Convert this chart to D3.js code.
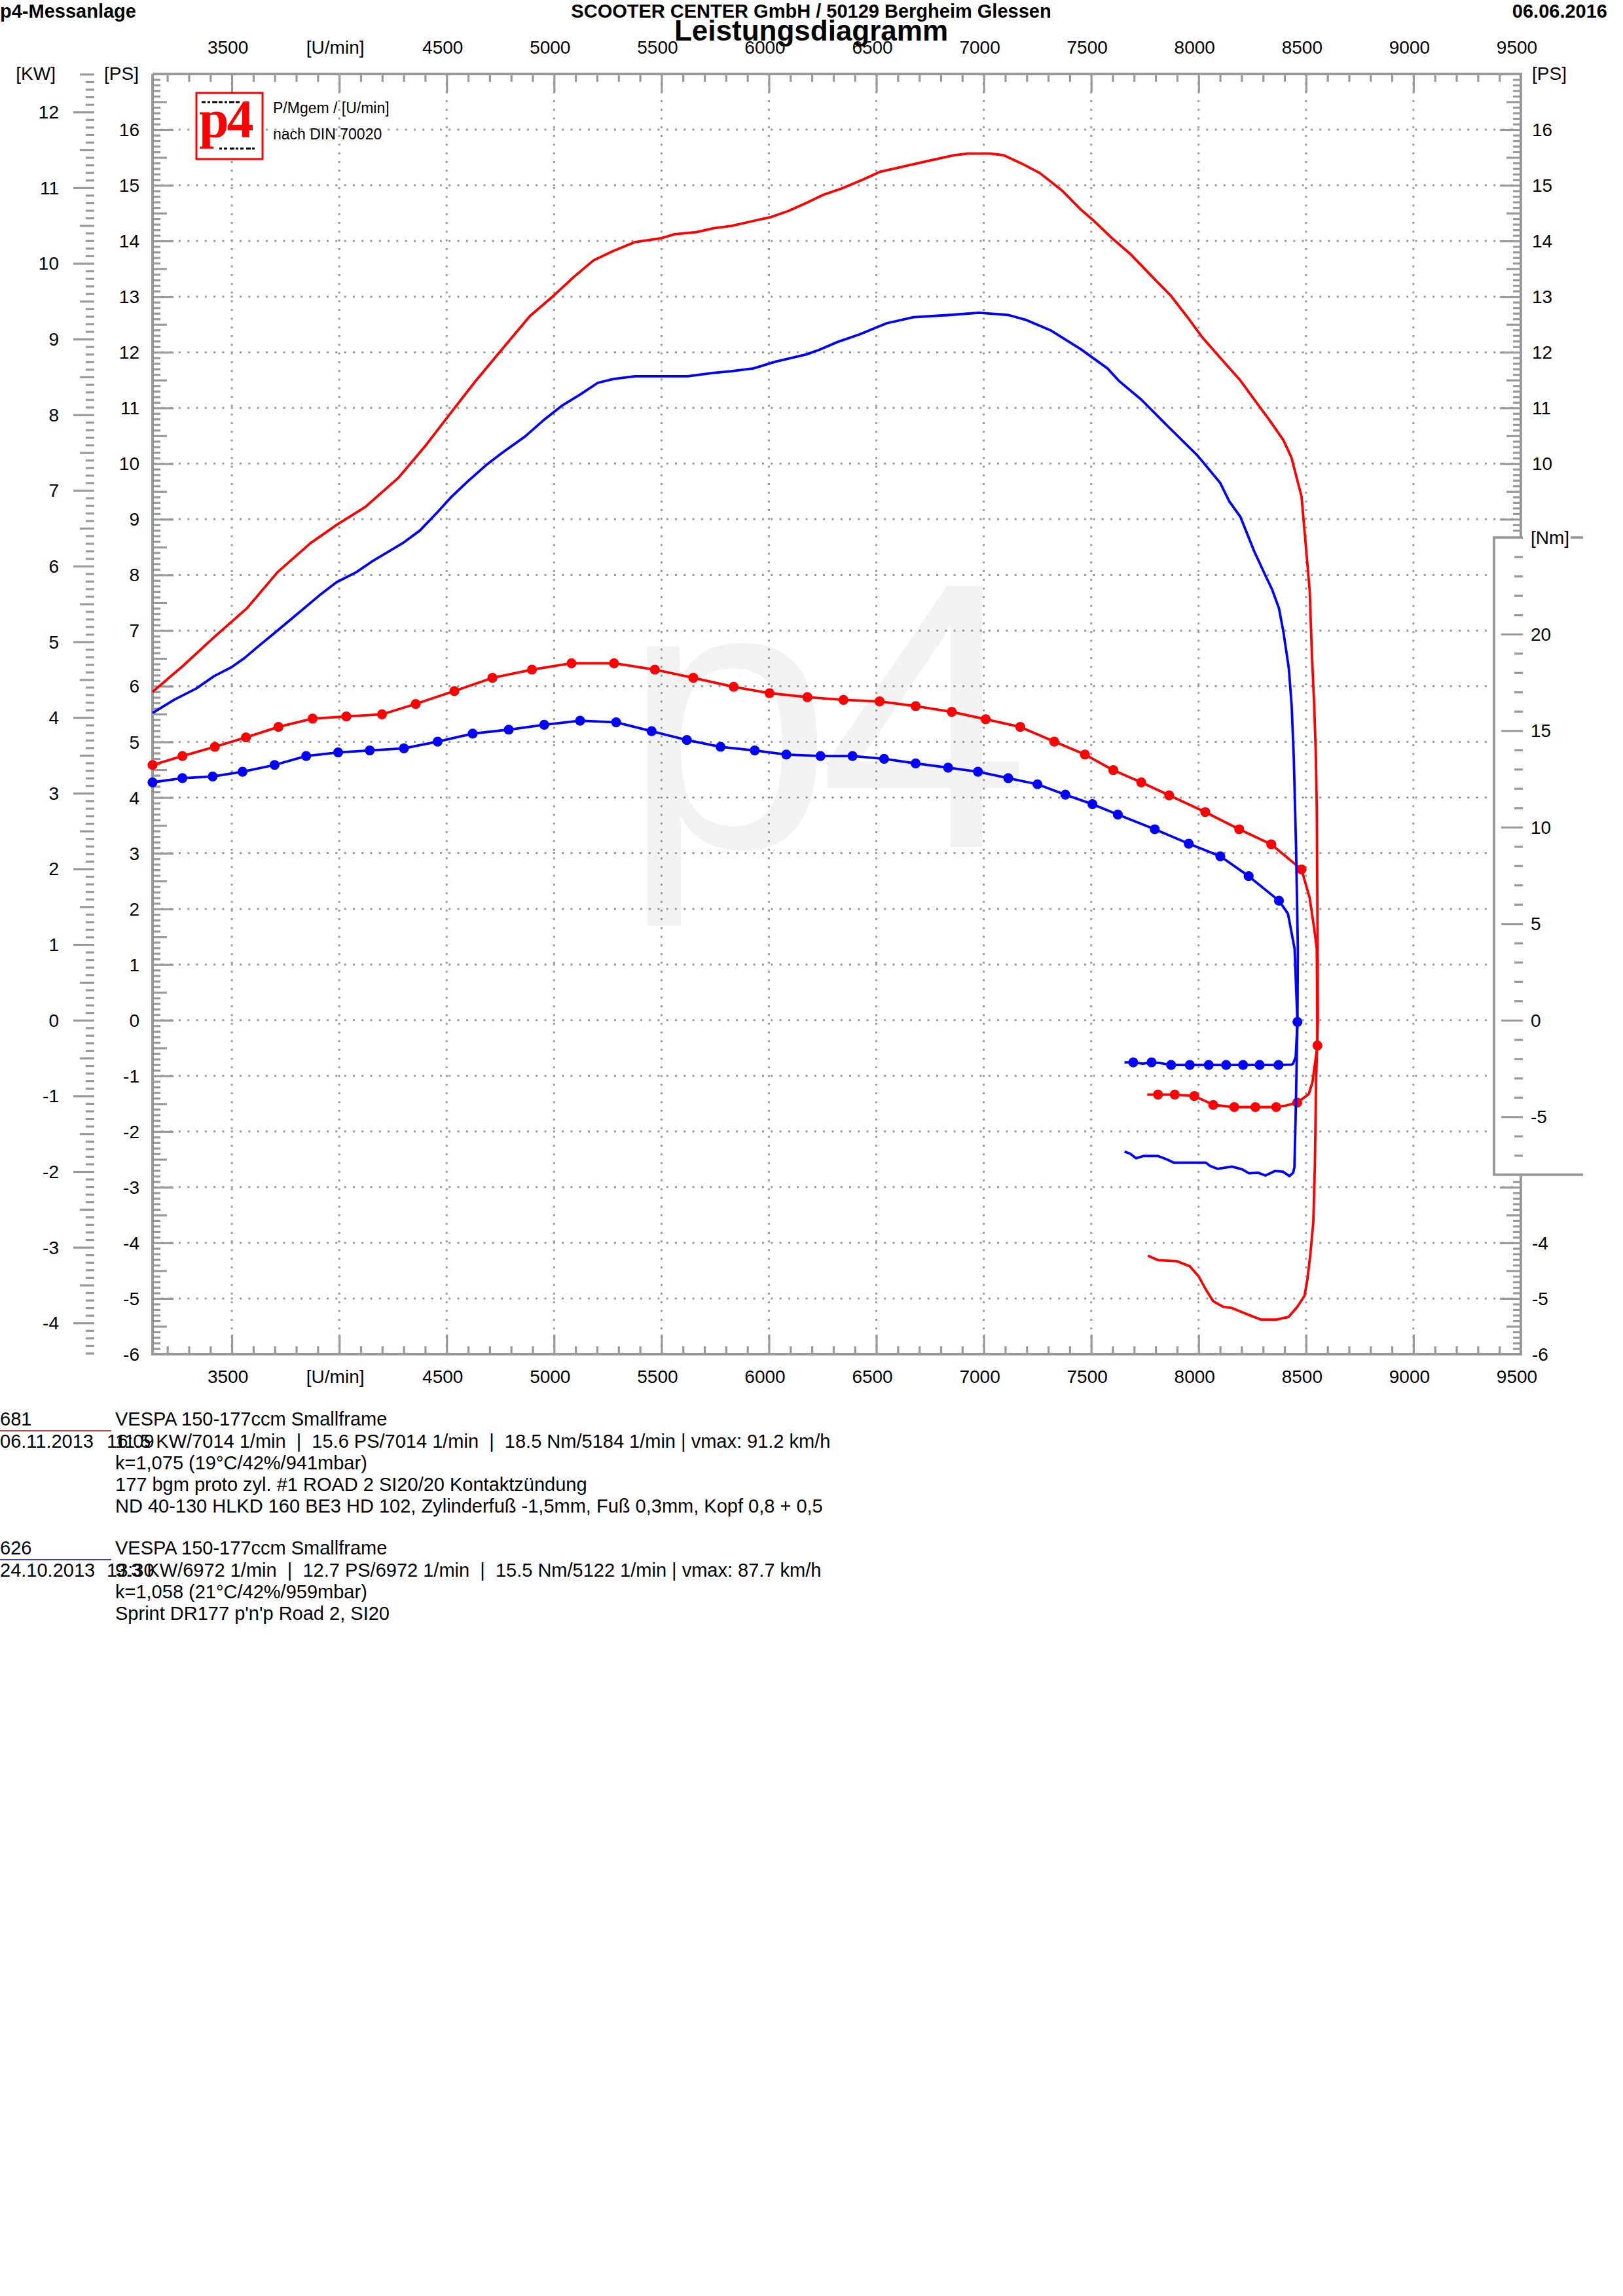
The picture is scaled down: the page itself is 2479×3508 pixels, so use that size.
<!DOCTYPE html>
<html><head><meta charset="utf-8">
<script src="https://cdn.jsdelivr.net/npm/d3@7"></script>
<style>
html,body{margin:0;padding:0;background:#fff;}
svg{display:block;}
text{font-family:"Liberation Sans",Arial,Helvetica,sans-serif;white-space:pre;}
text.serif{font-family:"Liberation Serif","Times New Roman",serif;}
</style></head><body>
<svg id="c" width="2479" height="3508"></svg>
<script>
// ---------------- DATA ----------------
const xTickLabels = ["3500","[U/min]","4500","5000","5500","6000","6500","7000","7500","8000","8500","9000","9500"];
const xTickRpm    = [3500,4000,4500,5000,5500,6000,6500,7000,7500,8000,8500,9000,9500];
const psLeftLabels  = [16,15,14,13,12,11,10,9,8,7,6,5,4,3,2,1,0,-1,-2,-3,-4,-5,-6];
const psRightLabels = [16,15,14,13,12,11,10,-4,-5,-6];
const kwLabels = [12,11,10,9,8,7,6,5,4,3,2,1,0,-1,-2,-3,-4];
const nmLabels = [20,15,10,5,0,-5];

// run 681 (red): power [rpm, PS]
const redPower = [[3131,5.90],[3274,6.37],[3417,6.88],[3570,7.40],[3713,8.05],[3866,8.57],[3988,8.90],[4121,9.22],[4274,9.74],[4397,10.30],[4519,10.91],[4632,11.47],[4744,11.99],[4887,12.65],[4999,13.02],[5091,13.35],[5183,13.65],[5275,13.82],[5377,13.98],[5499,14.05],[5560,14.12],[5662,14.16],[5744,14.23],[5826,14.27],[5928,14.36],[6010,14.43],[6091,14.54],[6173,14.68],[6254,14.83],[6337,14.94],[6442,15.11],[6515,15.24],[6652,15.36],[6778,15.47],[6862,15.54],[6925,15.57],[7030,15.57],[7093,15.54],[7177,15.39],[7261,15.22],[7366,14.90],[7450,14.57],[7513,14.36],[7597,14.05],[7681,13.77],[7786,13.35],[7870,13.02],[7954,12.60],[8017,12.27],[8101,11.90],[8195,11.49],[8269,11.10],[8332,10.77],[8395,10.42],[8432,10.11],[8479,9.41],[8496,8.66],[8517,7.72],[8527,6.60],[8538,5.66],[8546,4.72],[8550,3.79],[8554,1.28],[8555,0],[8547,-1.07],[8541,-2.64],[8534,-3.62],[8520,-4.21],[8507,-4.64],[8493,-4.95],[8459,-5.15],[8419,-5.33],[8358,-5.38],[8291,-5.38],[8230,-5.29],[8155,-5.17],[8115,-5.15],[8068,-5.05],[8034,-4.84],[8000,-4.60],[7959,-4.42],[7899,-4.33],[7811,-4.31],[7764,-4.23]];
// run 681 (red): torque [rpm, Nm, marker]
const redTorque = [[3131,13.22,1],[3270,13.68,1],[3421,14.16,1],[3566,14.65,1],[3717,15.19,1],[3876,15.62,1],[4033,15.73,1],[4199,15.84,1],[4356,16.38,1],[4536,17.05,1],[4713,17.73,1],[4897,18.16,1],[5081,18.49,1],[5279,18.49,1],[5469,18.16,1],[5648,17.73,1],[5836,17.27,1],[6003,16.94,1],[6179,16.73,1],[6347,16.59,1],[6515,16.51,1],[6683,16.27,1],[6851,15.97,1],[7009,15.59,1],[7170,15.19,1],[7328,14.43,1],[7471,13.76,1],[7603,12.95,1],[7733,12.32,1],[7863,11.65,1],[8031,10.78,1],[8189,9.89,1],[8338,9.11,1],[8479,7.81,1],[8517,6.33,0],[8542,4.43,0],[8550,3.68,0],[8553,-1.31,1],[8530,-3.2,0],[8513,-3.82,0],[8459,-4.27,1],[8399,-4.44,0],[8361,-4.50,1],[8264,-4.50,1],[8166,-4.50,1],[8068,-4.39,1],[8034,-4.2,0],[7980,-3.93,1],[7889,-3.85,1],[7811,-3.85,1],[7761,-3.85,0]];
// run 626 (blue): power [rpm, PS]
const bluePower = [[3131,5.52],[3233,5.76],[3335,5.96],[3417,6.18],[3498,6.34],[3560,6.51],[3621,6.71],[3703,6.97],[3805,7.30],[3907,7.63],[3988,7.87],[4080,8.05],[4152,8.24],[4295,8.57],[4376,8.80],[4458,9.13],[4519,9.39],[4601,9.69],[4683,9.97],[4764,10.21],[4866,10.49],[4948,10.77],[5040,11.05],[5121,11.24],[5203,11.45],[5275,11.52],[5377,11.57],[5499,11.57],[5622,11.57],[5744,11.63],[5826,11.66],[5928,11.71],[6030,11.83],[6173,11.96],[6232,12.04],[6316,12.18],[6421,12.32],[6547,12.52],[6673,12.63],[6841,12.67],[6977,12.71],[7114,12.67],[7198,12.58],[7313,12.39],[7450,12.06],[7576,11.71],[7628,11.49],[7733,11.15],[7849,10.70],[7996,10.14],[8101,9.65],[8143,9.32],[8195,9.04],[8258,8.43],[8311,7.99],[8342,7.74],[8374,7.40],[8395,6.97],[8420,6.32],[8433,5.66],[8443,4.72],[8454,3.04],[8462,1.28],[8460,0],[8453,-1.5],[8446,-2.64],[8440,-2.74],[8423,-2.80],[8392,-2.72],[8355,-2.71],[8311,-2.79],[8277,-2.74],[8234,-2.75],[8203,-2.68],[8155,-2.63],[8088,-2.67],[8054,-2.62],[8034,-2.56],[7885,-2.56],[7858,-2.51],[7811,-2.44],[7743,-2.44],[7709,-2.48],[7682,-2.40],[7655,-2.36]];
// run 626 (blue): torque [rpm, Nm, marker]
const blueTorque = [[3131,12.32,1],[3270,12.54,1],[3411,12.62,1],[3550,12.87,1],[3699,13.22,1],[3846,13.68,1],[3995,13.87,1],[4142,13.97,1],[4301,14.08,1],[4458,14.43,1],[4621,14.84,1],[4789,15.05,1],[4954,15.30,1],[5121,15.51,1],[5289,15.43,1],[5454,14.97,1],[5618,14.51,1],[5775,14.16,1],[5934,13.97,1],[6081,13.76,1],[6240,13.68,1],[6389,13.68,1],[6536,13.54,1],[6683,13.30,1],[6834,13.08,1],[6973,12.87,1],[7114,12.54,1],[7250,12.22,1],[7380,11.68,1],[7506,11.19,1],[7624,10.65,1],[7796,9.89,1],[7954,9.14,1],[8101,8.49,1],[8233,7.46,1],[8374,6.19,1],[8416,5.51,0],[8447,3.68,0],[8460,-0.09,1],[8452,-1.9,0],[8440,-2.25,0],[8432,-2.30,0],[8372,-2.32,1],[8284,-2.32,1],[8207,-2.32,1],[8128,-2.32,1],[8047,-2.32,1],[7959,-2.32,1],[7872,-2.32,1],[7820,-2.22,0],[7781,-2.18,1],[7740,-2.25,0],[7696,-2.18,1],[7655,-2.18,0]];

const runRed = {
  id:"681", title:"VESPA 150-177ccm Smallframe", date:"06.11.2013", time:"16:09",
  lines:["11.5 KW/7014 1/min  |  15.6 PS/7014 1/min  |  18.5 Nm/5184 1/min | vmax: 91.2 km/h",
         "k=1,075 (19°C/42%/941mbar)",
         "177 bgm proto zyl. #1 ROAD 2 SI20/20 Kontaktzündung",
         "ND 40-130 HLKD 160 BE3 HD 102, Zylinderfuß -1,5mm, Fuß 0,3mm, Kopf 0,8 + 0,5"]
};
const runBlue = {
  id:"626", title:"VESPA 150-177ccm Smallframe", date:"24.10.2013", time:"13:30",
  lines:["9.3 KW/6972 1/min  |  12.7 PS/6972 1/min  |  15.5 Nm/5122 1/min | vmax: 87.7 km/h",
         "k=1,058 (21°C/42%/959mbar)",
         "Sprint DR177 p'n'p Road 2, SI20"]
};

// ---------------- LAYOUT ----------------
const W = 2479, H = 3508;
const L = 233, R = 2323, T = 113, B = 2069;
const GRID = "#999999";
const RED = "#ff0000", BLUE = "#0000ff";
const FS = 28;

const svg = d3.select("#c");
svg.append("rect").attr("width", W).attr("height", H).attr("fill", "#fff");

const x = d3.scaleLinear().domain([3131, 9500]).range([L, R]);
const yPS = d3.scaleLinear().domain([-6, 17]).range([B, T]);
const KW_PER_PS = 0.73549875;
const yKW = d3.scaleLinear().domain([-6 * KW_PER_PS, 17 * KW_PER_PS]).range([B, T]);
const PS_PX = (B - T) / 23, NM_PX = 29.5;
const yNm = d3.scaleLinear().domain([-6 * PS_PX / NM_PX, 17 * PS_PX / NM_PX]).range([B, T]);
const NM_TOP = 25, NM_BOT = -8;
const boxTop = yNm(NM_TOP), boxBot = yNm(NM_BOT), boxLeft = 2282;

// watermark
svg.append("text").attr("x", 950).attr("y", 1294).attr("font-size", 580)
  .attr("letter-spacing", -22).attr("fill", "#f2f2f2").text("p4");

// ---------------- GRID ----------------
const gGrid = svg.append("g").attr("stroke", GRID).attr("stroke-width", 3).attr("stroke-dasharray", "3 10.3");
d3.range(-5, 17).forEach(p => {
  const yy = yPS(p);
  const xr = (yy > boxTop && yy < boxBot) ? boxLeft : R;
  gGrid.append("line").attr("x1", L).attr("x2", xr).attr("y1", yy).attr("y2", yy);
});
d3.range(3500, 9001, 500).forEach(r => {
  gGrid.append("line").attr("x1", x(r)).attr("x2", x(r)).attr("y1", T).attr("y2", B);
});

// ---------------- TICKS ----------------
function ticks(axisFn, scale, values, size, tr) {
  const g = svg.append("g").attr("transform", tr)
    .call(axisFn(scale).tickValues(values).tickSize(size).tickFormat(""));
  g.select(".domain").remove();
  g.selectAll("line").attr("stroke", GRID).attr("stroke-width", 3.2);
  g.selectAll("text").remove();
  return g;
}
const tenthsPS = d3.range(-60, 171).map(i => i / 10);
const psMaj = tenthsPS.filter(v => Math.abs(v * 10 % 10) < 1e-6);
const psMed = tenthsPS.filter(v => Math.abs(v * 10 % 10) > 1e-6 && Math.abs(v * 10 % 5) < 1e-6);
const psMin = tenthsPS.filter(v => Math.abs(v * 10 % 5) > 1e-6);
// left inner PS
ticks(d3.axisRight, yPS, psMin.filter(v => v > -6 && v < 17), 12, `translate(${L},0)`);
ticks(d3.axisRight, yPS, psMed, 22, `translate(${L},0)`);
ticks(d3.axisRight, yPS, psMaj.filter(v => v > -6), 32, `translate(${L},0)`);
// right inner PS (interrupted by Nm box)
const outBox = v => yPS(v) < boxTop - 4 || yPS(v) > boxBot + 4;
ticks(d3.axisLeft, yPS, psMin.filter(v => v > -6 && v < 17 && outBox(v)), 12, `translate(${R},0)`);
ticks(d3.axisLeft, yPS, psMed.filter(outBox), 22, `translate(${R},0)`);
ticks(d3.axisLeft, yPS, psMaj.filter(v => v > -6 && outBox(v)), 32, `translate(${R},0)`);
// KW outer axis
const tenthsKW = d3.range(-44, 126).map(i => i / 10);
const kwMaj = tenthsKW.filter(v => Math.abs(v * 10 % 10) < 1e-6);
const kwMed = tenthsKW.filter(v => Math.abs(v * 10 % 10) > 1e-6 && Math.abs(v * 10 % 5) < 1e-6);
const kwMin = tenthsKW.filter(v => Math.abs(v * 10 % 5) > 1e-6);
ticks(d3.axisLeft, yKW, kwMin, 13, `translate(144,0)`);
ticks(d3.axisLeft, yKW, kwMed, 22, `translate(144,0)`);
ticks(d3.axisLeft, yKW, kwMaj, 32, `translate(144,0)`);
// rpm axes
const rpmAll = d3.range(3200, 9500, 100);
const rpmMaj = rpmAll.filter(r => r % 500 === 0);
const rpmMin = rpmAll.filter(r => r % 500 !== 0);
ticks(d3.axisBottom, x, rpmMin, 12, `translate(0,${T})`);
ticks(d3.axisBottom, x, rpmMaj, 28, `translate(0,${T})`);
ticks(d3.axisTop, x, rpmMin, 12, `translate(0,${B})`);
ticks(d3.axisTop, x, rpmMaj, 30, `translate(0,${B})`);
// Nm axis
const nmAll = d3.range(-7, 25);
ticks(d3.axisLeft, yNm, nmAll.filter(v => v % 5 !== 0), 13, `translate(2326,0)`);
ticks(d3.axisLeft, yNm, nmAll.filter(v => v % 5 === 0), 33, `translate(2326,0)`);

// ---------------- FRAME ----------------
const gF = svg.append("g").attr("stroke", GRID).attr("stroke-width", 4).attr("fill", "none");
gF.append("path").attr("d", `M${L},${T}H${R}V${boxTop}M${R},${boxBot}V${B}H${L}V${T}`);
gF.append("path").attr("d", `M2326,${boxTop}H${boxLeft}V${boxBot}H2418`);
gF.append("path").attr("d", `M2399,${boxTop}H2418`);

// ---------------- LABELS ----------------
function txt(xx, yy, s, opt = {}) {
  return svg.append("text").attr("x", xx).attr("y", yy)
    .attr("font-size", opt.fs || FS).attr("font-weight", opt.fw || "normal")
    .attr("text-anchor", opt.anchor || "start").attr("fill", opt.fill || "#000").text(s);
}
// header
txt(0, 27, "p4-Messanlage", {fs: 29, fw: "bold"});
txt(1239, 27, "SCOOTER CENTER GmbH / 50129 Bergheim Glessen", {fs: 29, fw: "bold", anchor: "middle"});
txt(2455, 27, "06.06.2016", {fs: 29, fw: "bold", anchor: "end"});
// rpm labels top + bottom
xTickRpm.forEach((r, i) => {
  txt(x(r) - 6, 82, xTickLabels[i], {anchor: "middle"});
  txt(x(r) - 6, 2113, xTickLabels[i], {anchor: "middle"});
});
txt(1239, 62, "Leistungsdiagramm", {fs: 44, fw: "bold", anchor: "middle"});
// units
txt(85, 122, "[KW]", {anchor: "end"});
txt(212, 122, "[PS]", {anchor: "end"});
txt(2340, 122, "[PS]");
psLeftLabels.forEach(v => txt(213, yPS(v) + 10, String(v), {anchor: "end"}));
psRightLabels.forEach(v => txt(2340, yPS(v) + 10, String(v)));
kwLabels.forEach(v => txt(90, yKW(v) + 10, String(v), {anchor: "end"}));
nmLabels.forEach(v => txt(2338, yNm(v) + 10, String(v)));
txt(2338, boxTop + 10, "[Nm]");

// logo
svg.append("rect").attr("x", 300).attr("y", 142).attr("width", 101).attr("height", 101)
  .attr("fill", "#fff").attr("stroke", RED).attr("stroke-width", 3);
svg.append("text").attr("class", "serif").attr("x", 304).attr("y", 209).attr("font-size", 82)
  .attr("font-weight", "bold").attr("fill", RED).attr("letter-spacing", -3).text("p4");
const gDots = svg.append("g").attr("stroke", "#000").attr("stroke-width", 3);
gDots.append("line").attr("x1", 308).attr("x2", 368).attr("y1", 156).attr("y2", 156).attr("stroke-dasharray", "6 3 4 3 8 2");
gDots.append("line").attr("x1", 335).attr("x2", 390).attr("y1", 227).attr("y2", 227).attr("stroke-dasharray", "4 3 5 4 7 2");
txt(417, 173, "P/Mgem / [U/min]", {fs: 23});
txt(417, 213, "nach DIN 70020", {fs: 23});

// ---------------- CURVES ----------------
const linePS = d3.line().x(d => x(d[0])).y(d => yPS(d[1]));
const lineNm = d3.line().x(d => x(d[0])).y(d => yNm(d[1]));
function drawRun(power, torque, col) {
  const g = svg.append("g");
  g.append("path").datum(power).attr("d", linePS).attr("fill", "none")
    .attr("stroke", col).attr("stroke-width", 3.8).attr("stroke-linejoin", "round");
  g.append("path").datum(torque).attr("d", lineNm).attr("fill", "none")
    .attr("stroke", col).attr("stroke-width", 3.8).attr("stroke-linejoin", "round");
  g.selectAll("circle").data(torque.filter(d => d[2] === 1)).join("circle")
    .attr("cx", d => x(d[0])).attr("cy", d => yNm(d[1])).attr("r", 7.6).attr("fill", col);
}
drawRun(redPower, redTorque, RED);
drawRun(bluePower, blueTorque, BLUE);

// ---------------- INFO BLOCK ----------------
function info(run, y0, ulColor) {
  const LH = 33;
  txt(0, y0, run.id, {fs: 29});
  svg.append("line").attr("x1", 0).attr("x2", 170).attr("y1", y0 + 8).attr("y2", y0 + 8)
    .attr("stroke", ulColor).attr("stroke-width", 1.5);
  txt(176, y0, run.title, {fs: 29});
  txt(0, y0 + LH + 1, run.date, {fs: 29});
  txt(163, y0 + LH + 1, run.time, {fs: 29});
  run.lines.forEach((s, i) => txt(176, y0 + (i + 1) * LH + 1, s, {fs: 29}));
}
info(runRed, 2178, "#c00000");
info(runBlue, 2375, "#000080");
</script></body></html>
